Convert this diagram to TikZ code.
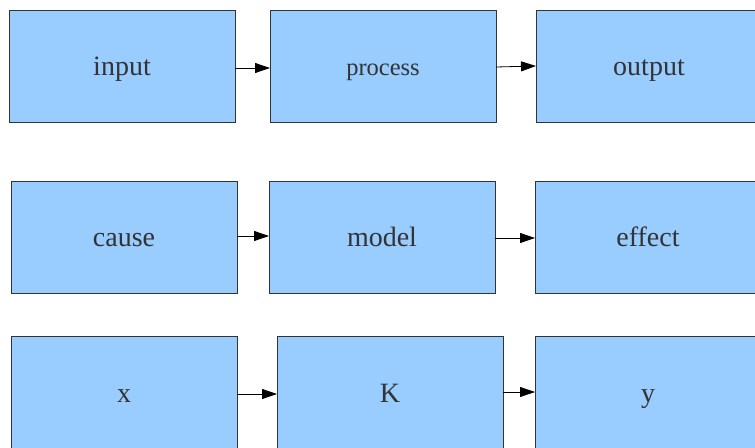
\documentclass[tikz,border=0pt]{standalone}
\usepackage{fontspec}
\setmainfont{Liberation Serif}
\usetikzlibrary{arrows.meta}
\definecolor{boxfill}{HTML}{99CCFF}
\definecolor{boxline}{HTML}{333333}
\definecolor{txt}{HTML}{333333}
\tikzset{
  blk/.style={draw=boxline, line width=0.8bp, fill=boxfill, text=txt},
  lbl/.style={text=txt, anchor=base, inner sep=0pt, font=\fontsize{28bp}{30bp}\selectfont},
  smalllbl/.style={text=txt, anchor=base, inner sep=0pt, font=\fontsize{24.5bp}{26bp}\selectfont},
  conn/.style={draw=black, line width=0.8bp, -{Triangle[length=15bp,width=10bp]}}
}
\begin{document}
\begin{tikzpicture}[x=1bp,y=-1bp]
\useasboundingbox (0,0) rectangle (755,448);
\clip (0,0) rectangle (755,448);
% row 1
\draw[blk] (9,10) rectangle (235,122);
\node[lbl] (input) at (122,76) {input};
\coordinate (inR) at (235,68);
\draw[blk] (270,10) rectangle (496,122);
\node[smalllbl] (process) at (383,76) {process};
\coordinate (prL) at (270,68);
\coordinate (prR) at (496,67);
\draw[blk] (536,10) rectangle (770,122);
\node[lbl] (output) at (649,76) {output};
\coordinate (ouL) at (536,66);
\draw[conn] (inR) -- (prL);
\draw[conn] (prR) -- (ouL);
% row 2
\draw[blk] (11,181) rectangle (237,293);
\node[lbl] (cause) at (124,247) {cause};
\coordinate (caR) at (237,236);
\draw[blk] (269,181) rectangle (495,293);
\node[lbl] (model) at (382,247) {model};
\coordinate (moL) at (269,236);
\coordinate (moR) at (495,238);
\draw[blk] (535,181) rectangle (770,293);
\node[lbl] (effect) at (648,247) {effect};
\coordinate (efL) at (535,238);
\draw[conn] (caR) -- (moL);
\draw[conn] (moR) -- (efL);
% row 3
\draw[blk] (11,336) rectangle (237,460);
\node[lbl] (x) at (124,402) {x};
\coordinate (xR) at (237,394);
\draw[blk] (277,336) rectangle (503,460);
\node[lbl] (K) at (390,402) {K};
\coordinate (KL) at (277,394);
\coordinate (KR) at (503,392);
\draw[blk] (535,336) rectangle (770,460);
\node[lbl] (y) at (648,402) {y};
\coordinate (yL) at (535,392);
\draw[conn] (xR) -- (KL);
\draw[conn] (KR) -- (yL);
\end{tikzpicture}
\end{document}
